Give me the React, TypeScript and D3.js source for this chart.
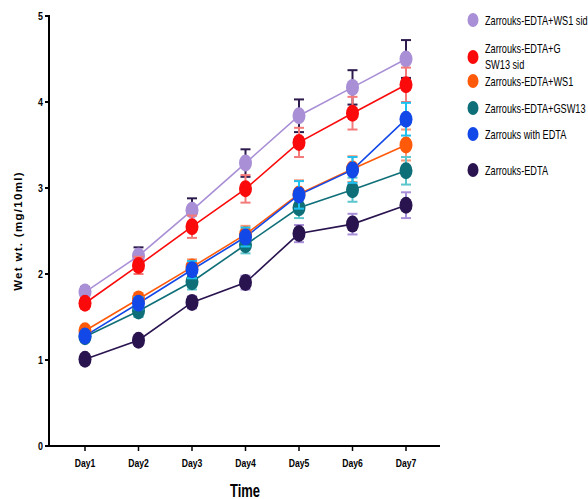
import React from "react";
import {scalePoint, scaleLinear, line} from "d3";

const days = ["Day1", "Day2", "Day3", "Day4", "Day5", "Day6", "Day7"];
const yTicks = [0, 1, 2, 3, 4, 5];

const seriesNames = [
    "Zarrouks-EDTA+WS1 sid",
    "Zarrouks-EDTA+G SW13 sid",
    "Zarrouks-EDTA+WS1",
    "Zarrouks-EDTA+GSW13",
    "Zarrouks with EDTA",
    "Zarrouks-EDTA"
];
const ws1Sid = [1.79, 2.21, 2.74, 3.29, 3.84, 4.17, 4.5];
const gsw13Sid = [1.66, 2.1, 2.55, 2.99, 3.53, 3.87, 4.2];
const ws1 = [1.34, 1.71, 2.08, 2.46, 2.93, 3.22, 3.5];
const gsw13 = [1.27, 1.57, 1.91, 2.34, 2.77, 2.98, 3.2];
const withEdta = [1.28, 1.66, 2.05, 2.43, 2.92, 3.21, 3.8];
const noEdta = [1.01, 1.23, 1.67, 1.9, 2.47, 2.58, 2.8];

const ws1SidErr = [0.06, 0.1, 0.14, 0.16, 0.19, 0.2, 0.22];
const gsw13SidErr = [0.06, 0.1, 0.13, 0.16, 0.17, 0.19, 0.2];
const ws1Err = [0.05, 0.07, 0.09, 0.1, 0.16, 0.15, 0.18];
const gsw13Err = [0.05, 0.07, 0.09, 0.1, 0.12, 0.14, 0.16];
const withEdtaErr = [0.05, 0.07, 0.1, 0.11, 0.16, 0.15, 0.19];
const noEdtaErr = [0.04, 0.05, 0.07, 0.08, 0.1, 0.12, 0.15];

const colors = ["#a98fd6", "#fa0a0a", "#ff5a0a", "#0f6f78", "#1248e8", "#2a1450"];
const errColors = ["#2d1b4e", "#f47a7a", "#f79a78", "#5cc6cc", "#1ec0f0", "#a88fd8"];

const allValues = [ws1Sid, gsw13Sid, ws1, gsw13, withEdta, noEdta];
const allErrs = [ws1SidErr, gsw13SidErr, ws1Err, gsw13Err, withEdtaErr, noEdtaErr];

const width = 588;
const height = 499;
const axisX = 49;
const axisY = 446;
const font = "'Liberation Sans', Arial, sans-serif";

// narrow text: the original uses a condensed Arial
const Narrow = ({x, y, sx, children, ...rest}: any) => (
    <g transform={`translate(${x}, ${y}) scale(${sx}, 1)`}>
        <text x={0} y={0} fontFamily={font} {...rest}>{children}</text>
    </g>
);

const App = () => {
    const xScale = scalePoint<string>().domain(days).range([85, 406]);
    const yScale = scaleLinear().domain([0, 5]).range([axisY, 16]);

    const lineGen = line<number>()
        .x((d, i) => xScale(days[i]) as number)
        .y(d => yScale(d));

    // legend rows (y positions of the markers)
    const legendY = [20, 57, 81, 108, 134, 170];
    const legSx = 0.735;

    return (
        <svg width={width} height={height}
             style={{position: "absolute", left: 0, top: 0, background: "#fff"}}>
            {/* axes */}
            <line x1={axisX} x2={axisX} y1={15} y2={axisY + 1} stroke="#000" strokeWidth={2}/>
            <line x1={axisX - 1} x2={440} y1={axisY} y2={axisY} stroke="#000" strokeWidth={2}/>
            {yTicks.map(t => (
                <g key={t}>
                    <line x1={axisX - 4} x2={axisX} y1={yScale(t)} y2={yScale(t)} stroke="#000" strokeWidth={2}/>
                    <Narrow x={axisX - 6} y={yScale(t) + 3.5} sx={0.85} textAnchor="end"
                            fontWeight="bold" fontSize={10.5}>{t}</Narrow>
                </g>
            ))}
            {days.map(d => (
                <g key={d}>
                    <line x1={xScale(d)} x2={xScale(d)} y1={axisY} y2={axisY + 5} stroke="#000" strokeWidth={1.5}/>
                    <Narrow x={xScale(d) as number} y={axisY + 21} sx={0.82} textAnchor="middle"
                            fontWeight="bold" fontSize={10.5}>{d}</Narrow>
                </g>
            ))}
            <Narrow x={245} y={497} sx={0.72} textAnchor="middle" fontWeight="bold" fontSize={18}>Time</Narrow>
            <text transform={`translate(22, 231) rotate(-90)`} textAnchor="middle"
                  fontFamily={font} fontWeight="bold" fontSize={11.5}
                  letterSpacing={1.3}>Wet wt. (mg/10ml)</text>

            {/* lines */}
            {allValues.map((vals, s) => (
                <path key={"l" + s} d={lineGen(vals) || ""} fill="none" stroke={colors[s]} strokeWidth={1.6}/>
            ))}
            {/* error bars + markers */}
            {allValues.map((vals, s) => (
                <g key={"m" + s}>
                    {vals.map((v, i) => {
                        const x = xScale(days[i]) as number;
                        const e = allErrs[s][i];
                        const yt = yScale(v + e);
                        const yb = yScale(v - e);
                        return (
                            <g key={i}>
                                <line x1={x} x2={x} y1={yt} y2={yb} stroke={errColors[s]} strokeWidth={2}/>
                                <line x1={x - 5} x2={x + 5} y1={yt} y2={yt} stroke={errColors[s]} strokeWidth={2}/>
                                <line x1={x - 5} x2={x + 5} y1={yb} y2={yb} stroke={errColors[s]} strokeWidth={2}/>
                            </g>
                        );
                    })}
                    {vals.map((v, i) => (
                        <ellipse key={"e" + i} cx={xScale(days[i]) as number} cy={yScale(v)}
                                 rx={6.5} ry={8.5} fill={colors[s]}/>
                    ))}
                </g>
            ))}

            {/* legend */}
            {seriesNames.map((name, s) => (
                <g key={"lg" + s}>
                    <ellipse cx={473} cy={legendY[s]} rx={5.5} ry={7} fill={colors[s]}/>
                    {s === 1 ? (
                        <g>
                            <Narrow x={485} y={legendY[s] - 4} sx={legSx} fontSize={12.5}>Zarrouks-EDTA+G</Narrow>
                            <Narrow x={485} y={legendY[s] + 12} sx={legSx} fontSize={12.5}>SW13 sid</Narrow>
                        </g>
                    ) : (
                        <Narrow x={485} y={legendY[s] + 4.5} sx={legSx} fontSize={12.5}>{name}</Narrow>
                    )}
                </g>
            ))}
        </svg>
    );
};

export default App;
